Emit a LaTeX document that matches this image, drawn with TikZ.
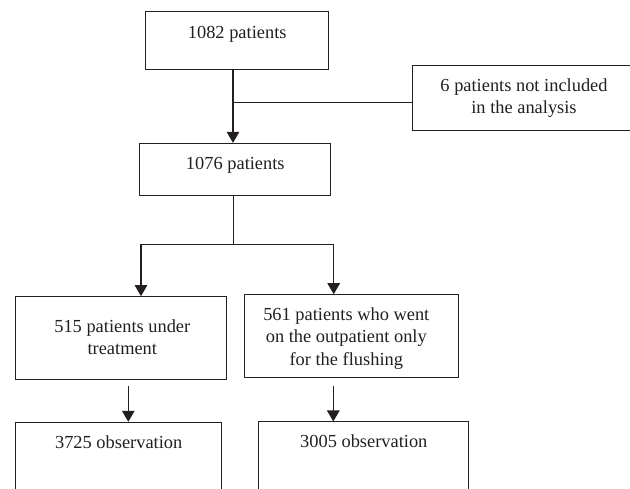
\documentclass[tikz,border=0pt]{standalone}
\usepackage{fontspec}
\setmainfont{Liberation Serif}
\usetikzlibrary{arrows.meta}
\definecolor{ink}{RGB}{35,31,32}

\begin{document}
\begin{tikzpicture}[x=1pt,y=-1pt,
    font=\fontsize{18.4}{22.3}\selectfont,
    box/.style={draw=ink,line width=1pt,inner sep=0pt},
    txt/.style={anchor=north,inner sep=0pt,align=center,text=ink}]
      \clip (0,0) rectangle (630,489);
      \draw
        (237.2,40.3) node[box,minimum width=183pt,minimum height=58pt,
          label={[txt,yshift=-12.1pt]north:\strut 1082 patients}] (all){}
        (524,97.9) node[box,minimum width=224pt,minimum height=64.3pt,
          label={[txt,yshift=-10.4pt]north:{\strut 6 patients not included\\in the analysis}}] (excl){}
        (235.3,169.2) node[box,minimum width=190.7pt,minimum height=51.7pt,
          label={[txt,yshift=-10.4pt]north:\strut 1076 patients}] (incl){}
        (120.8,338.2) node[box,minimum width=211pt,minimum height=83pt,
          label={[txt,yshift=-20pt,xshift=1.5pt]north:{\strut 515 patients under\\treatment}}] (treat){}
        (351.8,336) node[box,minimum width=213.7pt,minimum height=82.6pt,
          label={[txt,yshift=-10.4pt,xshift=-5.5pt]north:{\strut 561 patients who went\\on the outpatient only\\for the flushing}}] (flush){}
        (118.7,482.3) node[box,minimum width=206pt,minimum height=120pt,
          label={[txt,yshift=-10.4pt]north:\strut 3725 observation}] (obstreat){}
        (363.8,482) node[box,minimum width=210.3pt,minimum height=120pt,
          label={[txt,yshift=-10.4pt]north:\strut 3005 observation}] (obsflush){};
      \coordinate (cut) at (233,102.7);
      \coordinate (fork) at (233.5,244.7);
      \begin{scope}[-{Triangle[length=11pt,width=12.5pt]},draw=ink,line width=1.2pt]
        \draw (all.south -| cut) to (cut |- incl.north);
        \draw[-] (cut) to (cut -| excl.west);
        \draw[-] (incl.south -| fork) to (fork);
        \draw (fork) -| ([xshift=20.2pt]treat.north);
        \draw (fork) -| ([xshift=-18.1pt]flush.north);
        \draw ([xshift=7.5pt,yshift=-6.3pt]treat.south) to ([xshift=7.5pt]treat.south |- obstreat.north);
        \draw ([xshift=-18.5pt,yshift=-8.7pt]flush.south) to ([xshift=-18.5pt]flush.south |- obsflush.north);
      \end{scope}
    \end{tikzpicture}
\end{document}
